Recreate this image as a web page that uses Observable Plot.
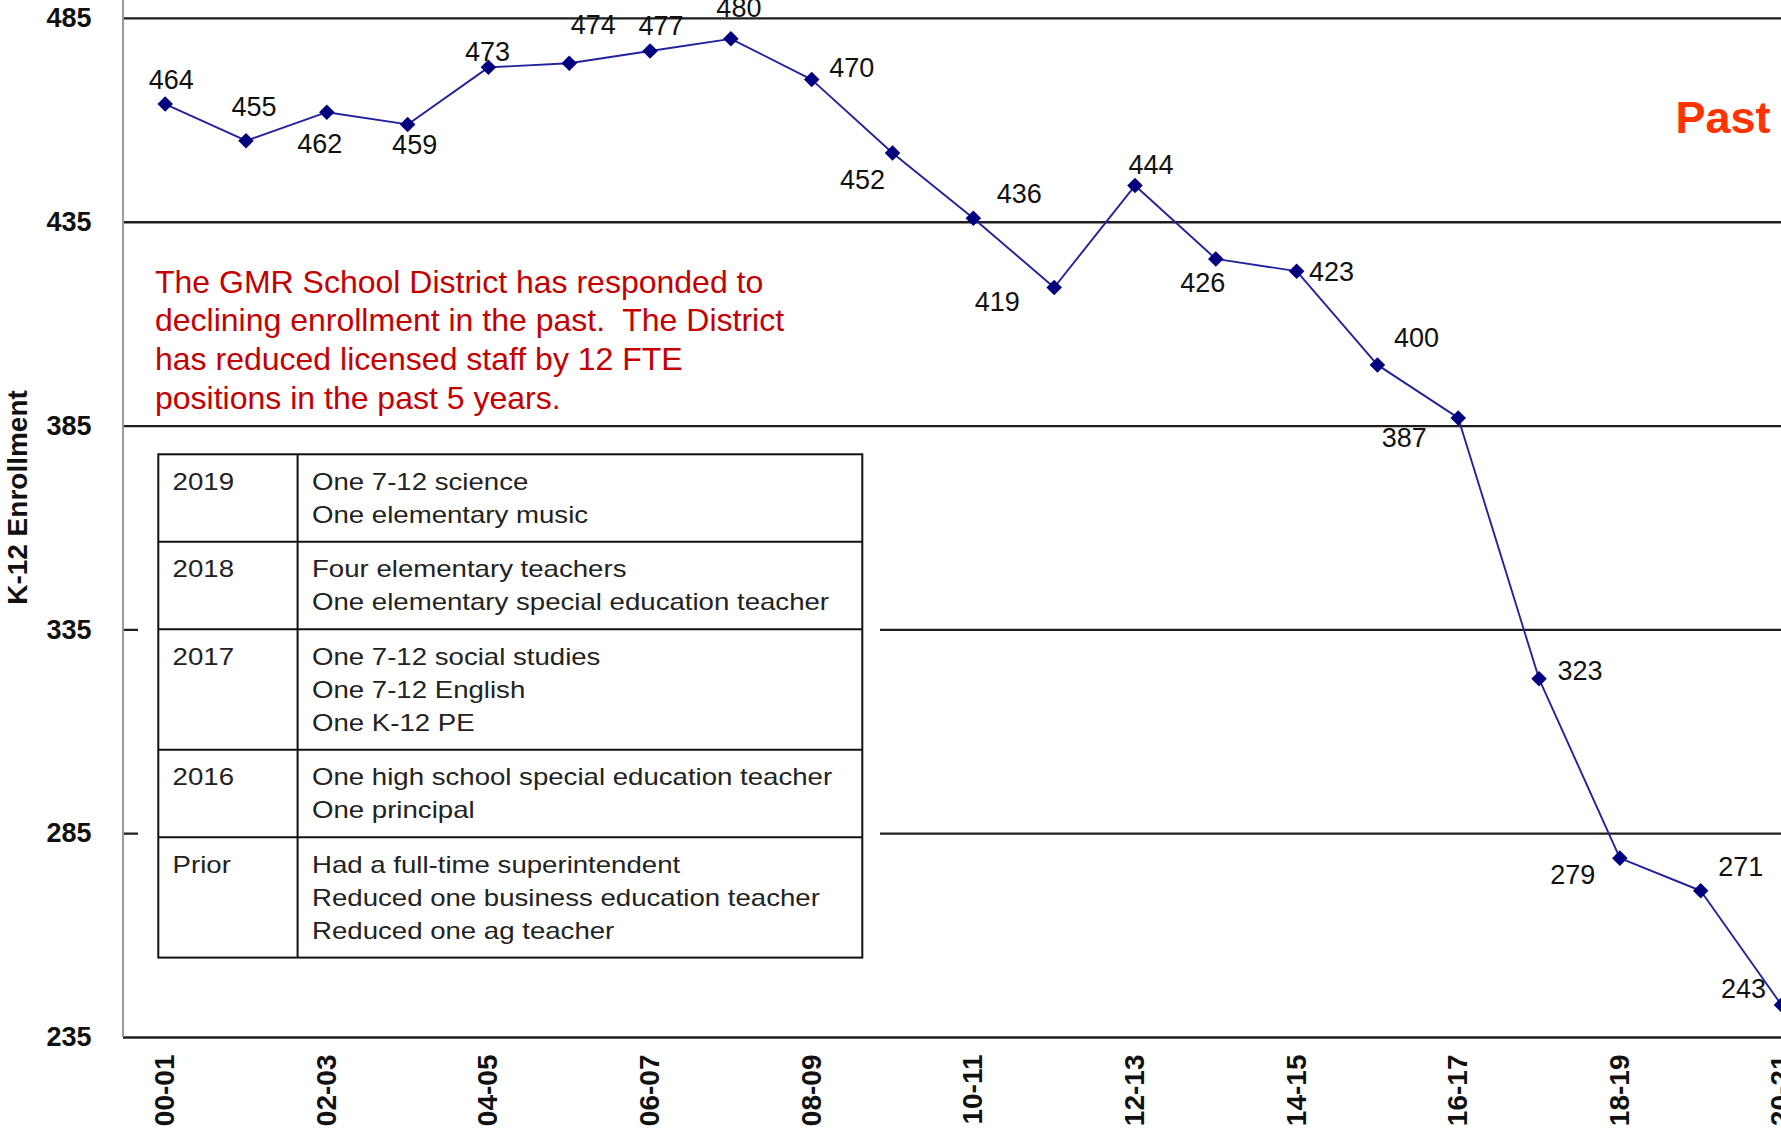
<!DOCTYPE html>
<html><head><meta charset="utf-8">
<script src="https://cdn.jsdelivr.net/npm/d3@7"></script>
<script src="https://cdn.jsdelivr.net/npm/@observablehq/plot@0.6"></script>
<style>
html,body{margin:0;padding:0;background:#fff;}
#chart{width:1781px;height:1131px;overflow:hidden;}
#chart svg text{white-space:pre;}
</style></head><body><div id="chart"></div>
<script>
// ---------- data ----------
const schoolYears = ["00-01","01-02","02-03","03-04","04-05","05-06","06-07","07-08","08-09","09-10","10-11","11-12","12-13","13-14","14-15","15-16","16-17","17-18","18-19","19-20","20-21"];
const enrollment = [464,455,462,459,473,474,477,480,470,452,436,419,444,426,423,400,387,323,279,271,243];
const yTickValues = [235,285,335,385,435,485];
const xTickLabels = ["00-01","02-03","04-05","06-07","08-09","10-11","12-13","14-15","16-17","18-19","20-21"];
const yAxisTitle = "K-12 Enrollment";
const sideTitle = "Past";
const noteLines = [
  "The GMR School District has responded to",
  "declining enrollment in the past.  The District",
  "has reduced licensed staff by 12 FTE",
  "positions in the past 5 years."
];
const cutYears = ["2019","2018","2017","2016","Prior"];
const cutItems = [
  ["One 7-12 science","One elementary music"],
  ["Four elementary teachers","One elementary special education teacher"],
  ["One 7-12 social studies","One 7-12 English","One K-12 PE"],
  ["One high school special education teacher","One principal"],
  ["Had a full-time superintendent","Reduced one business education teacher","Reduced one ag teacher"]
];

// ---------- styling ----------
const labelNudge = [[6,-24],[8,-33],[-7,32],[7,21],[-1,-15],[24,-38],[11,-25],[8,-30],[40,-11],[-30,27],[46,-24],[-57,15],[16,-20],[-13,24],[35,1],[39,-27],[-54,20],[41,-7],[-47,17],[40,-23],[-38,-16]];
const FONT = "'Liberation Sans', Arial, Helvetica, sans-serif";
const W = 1781, H = 1131, ML = 123, MB = 94;

const rows = schoolYears.map((year, i) => ({year, value: enrollment[i]}));

function axisLine(index, scales, values, dims) {
  const g = d3.create("svg:g");
  g.append("line")
    .attr("x1", dims.marginLeft).attr("x2", dims.marginLeft)
    .attr("y1", 0).attr("y2", dims.height - dims.marginBottom)
    .attr("stroke", "#9a9a9a").attr("stroke-width", 2);
  return g.node();
}

function lossTable(index, scales, values, dims) {
  const g = d3.create("svg:g");
  const L = 158.3, M = 297.6, R = 862.3, T = 454.3;
  const pad = 21.7, lh = 32.9, first = 35.5, sx = 1.17;
  g.append("rect").attr("x", 138).attr("y", 440).attr("width", 742).attr("height", 535).attr("fill", "#fff");
  let y = T; const tops = [];
  cutItems.forEach(items => { tops.push(y); y += pad + items.length * lh; });
  const B = y;
  const txt = g.append("g").attr("fill", "#222").attr("font-size", 23.6)
    .attr("font-family", FONT).attr("text-anchor", "start");
  cutYears.forEach((yr, i) => {
    txt.append("text").attr("text-anchor", "start")
      .attr("transform", `translate(172.6,${tops[i] + first}) scale(${sx},1)`).text(yr);
    cutItems[i].forEach((t, j) => {
      txt.append("text").attr("text-anchor", "start")
        .attr("transform", `translate(312,${tops[i] + first + j * lh}) scale(${sx},1)`).text(t);
    });
  });
  const ln = g.append("g").attr("stroke", "#111").attr("stroke-width", 2).attr("fill", "none");
  ln.append("rect").attr("x", L).attr("y", T).attr("width", R - L).attr("height", B - T);
  ln.append("line").attr("x1", M).attr("x2", M).attr("y1", T).attr("y2", B);
  tops.slice(1).forEach(t => ln.append("line").attr("x1", L).attr("x2", R).attr("y1", t).attr("y2", t));
  return g.node();
}

const valueLabels = rows.map((d, i) => Plot.text([d], {
  x: "year", y: "value", text: d => String(d.value),
  dx: labelNudge[i][0], dy: labelNudge[i][1],
  fontSize: 27, fill: "#111"
}));

const chart = Plot.plot({
  width: W, height: H,
  marginTop: 0, marginRight: 0, marginBottom: MB, marginLeft: ML,
  style: {fontFamily: FONT, background: "#fff", overflow: "hidden"},
  x: {type: "point", domain: schoolYears, range: [164.7, W], padding: 0, round: false, axis: null},
  y: {domain: [235, 489.4], axis: null},
  marks: [
    Plot.ruleY(yTickValues, {stroke: "#1e1e1e", strokeWidth: 2.3}),
    axisLine,
    lossTable,
    Plot.text([noteLines.join("\n")], {
      frameAnchor: "top-left", textAnchor: "start", lineAnchor: "top",
      dx: 154.5 - ML, dy: 264.5, lineHeight: 1.21,
      fontSize: 32, fill: "#c40000"
    }),
    Plot.line(rows, {x: "year", y: "value", stroke: "#22229c", strokeWidth: 1.9}),
    Plot.dot(rows, {x: "year", y: "value", symbol: "diamond2", r: 7, fill: "#00007f", stroke: "none"}),
    ...valueLabels,
    Plot.text(yTickValues, {y: d => d, frameAnchor: "left", textAnchor: "end", lineAnchor: "middle", dx: -32, fontSize: 27, fontWeight: "bold", fill: "#111"}),
    Plot.text(xTickLabels, {x: d => d, frameAnchor: "bottom", rotate: -90, textAnchor: "end", lineAnchor: "middle", dy: 17, fontSize: 28, fontWeight: "bold", fill: "#111"}),
    Plot.text([yAxisTitle], {frameAnchor: "left", textAnchor: "middle", lineAnchor: "middle", rotate: -90, dx: 18 - ML, dy: 497 - (H - MB) / 2, fontSize: 28, fontWeight: "bold", fill: "#111"}),
    Plot.text([sideTitle], {frameAnchor: "top-left", textAnchor: "start", lineAnchor: "top", dx: 1675 - ML, dy: 100.7, fontSize: 45, fontWeight: "bold", fill: "#ff3300"})
  ]
});
document.getElementById("chart").appendChild(chart);
</script>
</body></html>
